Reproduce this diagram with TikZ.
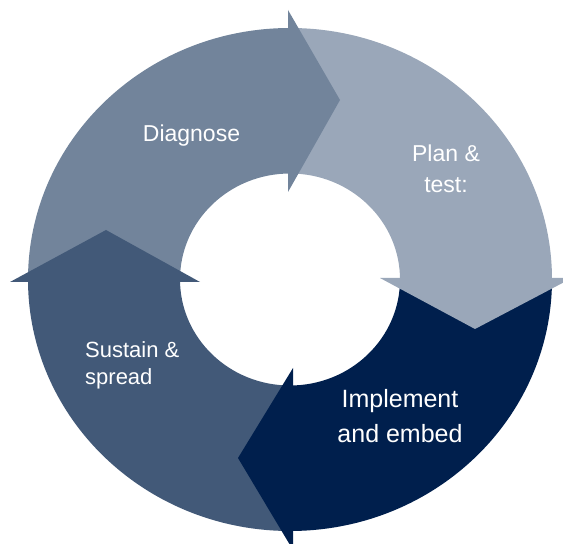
\documentclass[tikz,border=0pt]{standalone}
\usepackage{fontspec}
\setmainfont{Liberation Sans}
\definecolor{cDiag}{RGB}{114,132,155}
\definecolor{cPlan}{RGB}{154,167,185}
\definecolor{cImpl}{RGB}{0,31,77}
\definecolor{cSust}{RGB}{66,89,120}
\newcommand\ringseg[3]{\fill[#1] (#2:262 and 251.5) arc[start angle=#2,end angle=#3,x radius=262,y radius=251.5] -- (#3:110 and 106) arc[start angle=#3,end angle=#2,x radius=110,y radius=106] -- cycle;}
\tikzset{lbl/.style={text=white, inner sep=0pt}}
\begin{document}
\begin{tikzpicture}[x=1pt,y=1pt]
\useasboundingbox (0,0) rectangle (563,544);
\clip (0,0) rectangle (563,544);
\begin{scope}[shift={(290,264.5)}]
\ringseg{cDiag}{180}{90}
\ringseg{cPlan}{90}{0}
\ringseg{cImpl}{0}{-90}
\ringseg{cSust}{-90}{-180}
\end{scope}
% arrow heads
\fill[cDiag] (288,534) -- (340,444) -- (288,352) -- cycle;
\fill[cPlan] (380,266) -- (572,266) -- (475,215) -- cycle;
\fill[cImpl] (293,176) -- (238,86) -- (293,-6) -- cycle;
\fill[cSust] (10,262) -- (200,262) -- (106,314) -- cycle;
% labels
\node[lbl, anchor=base, font=\fontsize{23}{31}\selectfont] (diag) at (191.5,402) {Diagnose};
\node[lbl, anchor=base, align=center, font=\fontsize{23}{31}\selectfont] (plan) at (446,351) {Plan \&\\test:};
\node[lbl, anchor=base, align=center, font=\fontsize{25}{35}\selectfont] (impl) at (400,101) {Implement\\and embed};
\node[lbl, anchor=base west, align=left, font=\fontsize{22}{27}\selectfont] (sust) at (85,159) {Sustain \&\\spread};
\end{tikzpicture}
\end{document}
